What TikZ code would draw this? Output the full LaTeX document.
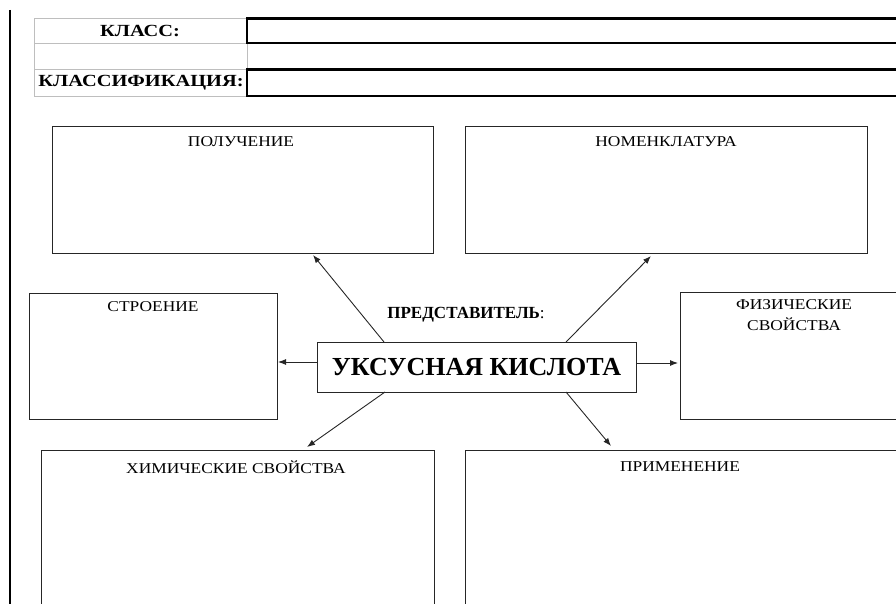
\documentclass[tikz,border=0pt]{standalone}
\usepackage{graphicx}
\usepackage{fontspec}
\setmainfont{Liberation Serif}
\newfontfamily\labf[FakeStretch=1.16]{Liberation Serif}
\newfontfamily\headf[FakeStretch=1.2]{Liberation Serif}
\usetikzlibrary{arrows.meta}
\definecolor{gridgray}{RGB}{190,190,190}
\begin{document}
\begin{tikzpicture}[x=1pt,y=-1pt,
  box/.style={draw=black!85, line width=1pt, rectangle, inner sep=0pt, anchor=north west},
  lbl/.style={font=\labf\fontsize{15}{21}\selectfont, align=center, inner sep=0pt},
  head/.style={font=\headf\bfseries\fontsize{17}{20}\selectfont, inner sep=0pt},
  arr/.style={draw=black!85, line width=0.9pt, -{Latex[length=8pt,width=6pt]}},
  thick/.style={line width=2.2pt, black},
  thin/.style={line width=0.8pt, gridgray}]
\useasboundingbox (0,0) rectangle (896,604);
\clip (0,0) rectangle (896,604);
% left margin line
\draw[line width=1.3pt] (10,10) -- (10,604);
% table
\draw[thin] (34,18.5) rectangle (247,96);
\draw[thin] (34,43) -- (247,43);
\draw[thin] (34,69.5) -- (247,69.5);
\draw[thin] (247,43) -- (247,69.5);
\draw[thick] (247,18.5) -- (900,18.5);
\draw[thick] (247,43) -- (900,43);
\draw[thick] (247,69.5) -- (900,69.5);
\draw[thick] (247,96) -- (900,96);
\draw[thick] (247,17.4) -- (247,44);
\draw[thick] (247,68.4) -- (247,97.1);
\node[head] (klass) at (140,31) {КЛАСС:};
\node[head] (klassif) at (141,83) {КЛАССИФИКАЦИЯ:};
% boxes
\node[box, minimum width=381pt, minimum height=127pt] (pol) at (52,126) {};
\node[box, minimum width=402pt, minimum height=127pt] (nom) at (465,126) {};
\node[box, minimum width=248pt, minimum height=126pt] (str) at (29,293) {};
\node[box, minimum width=230pt, minimum height=127pt] (fiz) at (680,292) {};
\node[box, minimum width=393pt, minimum height=170pt] (him) at (41,450) {};
\node[box, minimum width=440pt, minimum height=170pt] (pri) at (465,450) {};
% labels
\node[lbl] (polt) at (241,142) {ПОЛУЧЕНИЕ};
\node[lbl] (nomt) at (666,142) {НОМЕНКЛАТУРА};
\node[lbl] (strt) at (153,307) {СТРОЕНИЕ};
\node[lbl] (fizt) at (794,315) {ФИЗИЧЕСКИЕ\\СВОЙСТВА};
\node[lbl] (himt) at (236,467) {ХИМИЧЕСКИЕ СВОЙСТВА};
\node[lbl] (prit) at (680,467) {ПРИМЕНЕНИЕ};
% centre
\node[font=\bfseries\fontsize{17}{20}\selectfont, inner sep=0pt] (pred) at (466,315) {ПРЕДСТАВИТЕЛЬ\textmd{:}};
\node[draw=black!85, line width=1pt, minimum width=319pt, minimum height=50pt, inner sep=0pt,
      font=\bfseries\fontsize{26}{30}\selectfont] (c) at (476.5,367) {УКСУСНАЯ КИСЛОТА};
% arrows
\coordinate (s1) at (384,342); \coordinate (t1) at (313,255);
\coordinate (s2) at (566,342); \coordinate (t2) at (651,256);
\coordinate (s3) at (317,362); \coordinate (t3) at (278,362);
\coordinate (s4) at (636,363); \coordinate (t4) at (678,363);
\coordinate (s5) at (385,392); \coordinate (t5) at (307,447);
\coordinate (s6) at (566,392); \coordinate (t6) at (611,446);
\draw[arr] (s1) -- (t1);
\draw[arr] (s2) -- (t2);
\draw[arr] (s3) -- (t3);
\draw[arr] (s4) -- (t4);
\draw[arr] (s5) -- (t5);
\draw[arr] (s6) -- (t6);
\end{tikzpicture}
\end{document}
